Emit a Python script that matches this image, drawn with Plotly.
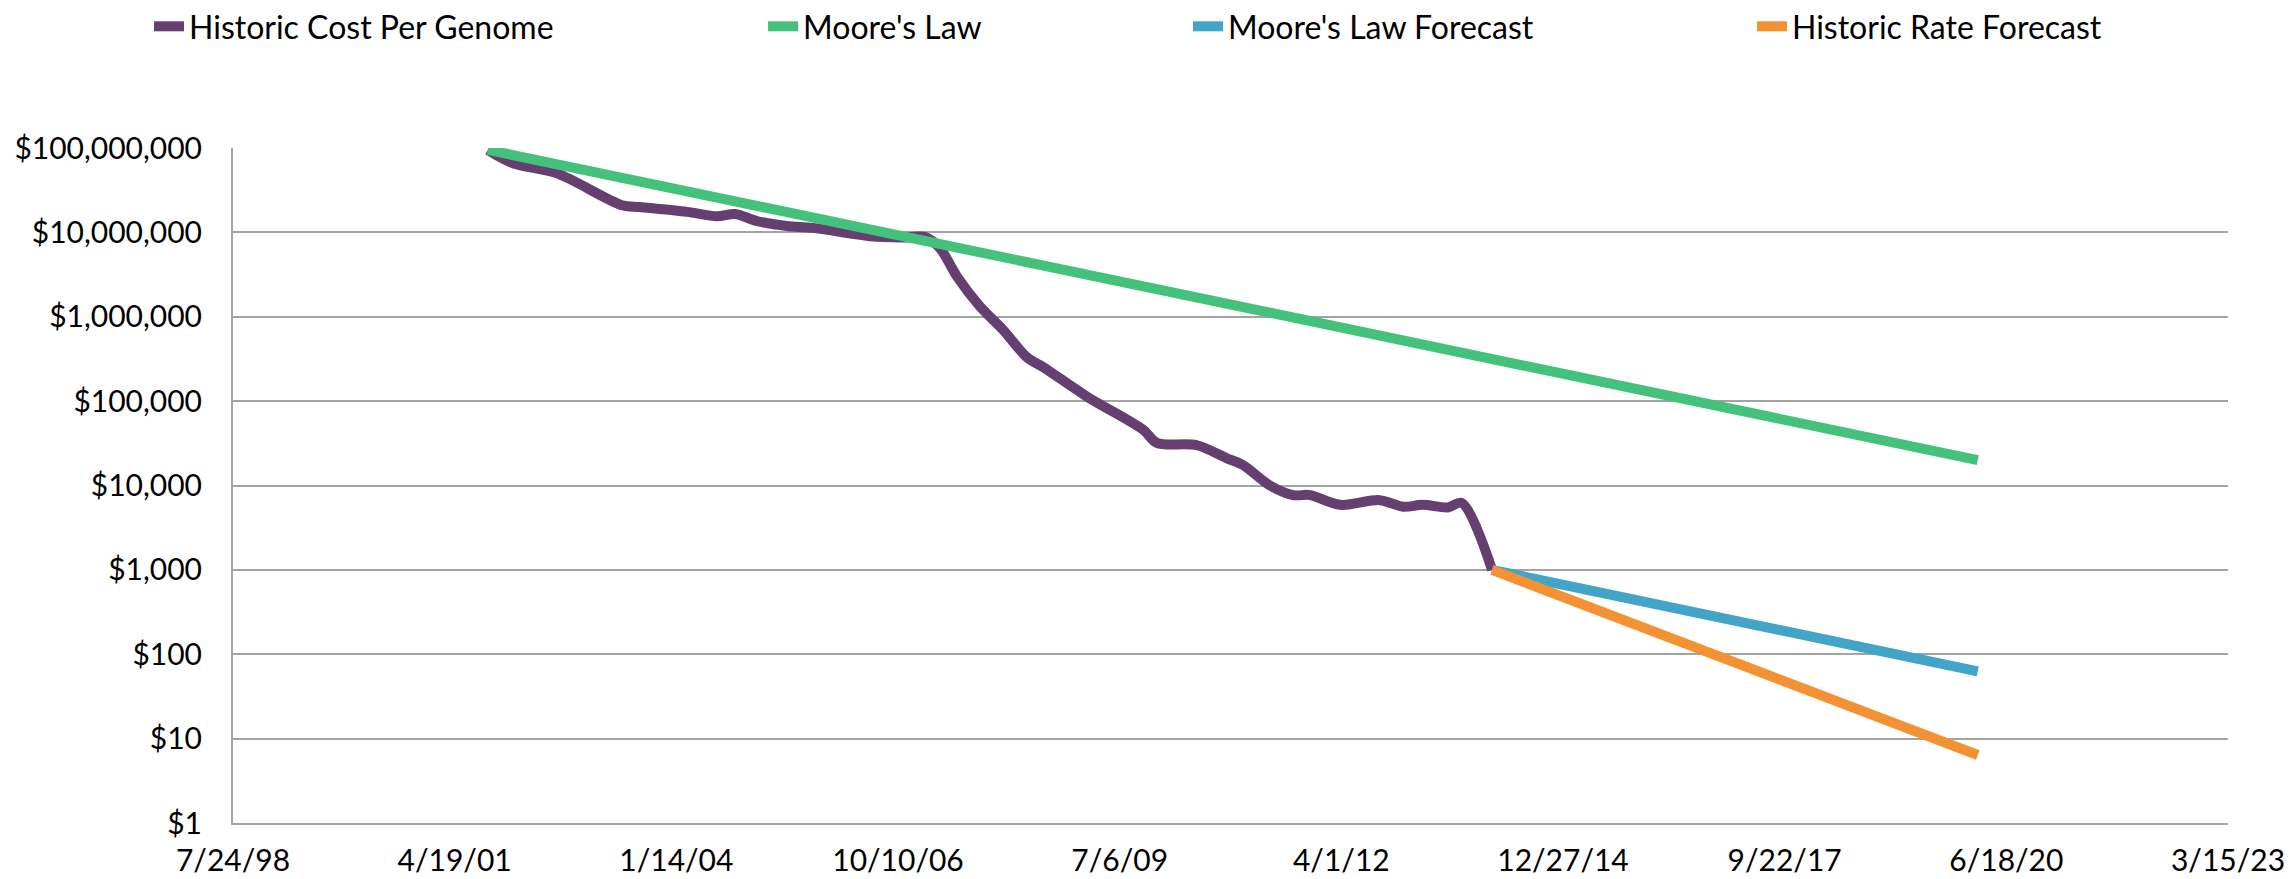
import plotly.graph_objects as go

# ---------------- data ----------------
cost_dates = [
    "2001-09-16", "2002-01-07", "2002-07-25", "2003-05-14", "2003-08-03",
    "2004-03-02", "2004-07-15", "2004-10-05", "2005-01-12", "2005-05-27",
    "2005-09-21", "2006-06-06", "2006-11-01", "2007-02-09", "2007-04-17",
    "2007-07-03", "2007-10-15", "2008-01-27", "2008-05-14", "2008-07-25",
    "2009-02-09", "2009-10-19", "2009-12-21", "2010-06-20", "2010-11-02",
    "2011-01-13", "2011-05-15", "2011-08-27", "2011-11-12", "2012-03-26",
    "2012-09-22", "2013-01-04", "2013-04-04", "2013-07-26", "2013-09-27",
    "2014-02-10",
]
cost_values = [
    95000000, 66000000, 50000000, 21000000, 20000000,
    17500000, 15500000, 16500000, 13600000, 11900000,
    11300000, 9000000, 8700000, 8800000, 6500000,
    3000000, 1320000, 700000, 330000, 254000,
    113000, 46000, 32000, 30000, 21000,
    17500, 10000, 7700, 7700, 5900,
    6700, 5600, 5900, 5500, 6200,
    1000,
]

moore_dates = ["2001-09-16", "2020-02-10"]
moore_values = [95000000, 20000]

moore_fc_dates = ["2014-02-10", "2020-02-10"]
moore_fc_values = [1000, 62.5]

hist_fc_dates = ["2014-02-10", "2020-02-10"]
hist_fc_values = [1000, 6.4]

x_tick_dates = ["1998-07-24", "2001-04-19", "2004-01-14", "2006-10-10", "2009-07-06",
                "2012-04-01", "2014-12-27", "2017-09-22", "2020-06-18", "2023-03-15"]
x_tick_labels = ["7/24/98", "4/19/01", "1/14/04", "10/10/06", "7/6/09",
                 "4/1/12", "12/27/14", "9/22/17", "6/18/20", "3/15/23"]

y_tick_values = [1, 10, 100, 1000, 10000, 100000, 1000000, 10000000, 100000000]
y_tick_labels = ["$1", "$10", "$100", "$1,000", "$10,000", "$100,000",
                 "$1,000,000", "$10,000,000", "$100,000,000"]

series_names = ["Historic Cost Per Genome", "Moore's Law",
                "Moore's Law Forecast", "Historic Rate Forecast"]
series_colors = ["#653F6F", "#44C27C", "#42A4C7", "#F29232"]

# ---------------- figure ----------------
FONT = "Lato, 'Noto Sans', sans-serif"
GRID = "#a3a3a3"

fig = go.Figure()
data = [
    (cost_dates, cost_values, "spline"),
    (moore_dates, moore_values, "linear"),
    (moore_fc_dates, moore_fc_values, "linear"),
    (hist_fc_dates, hist_fc_values, "linear"),
]
legend_ids = ["legend", "legend2", "legend3", "legend4"]
for i, (xs, ys, shape) in enumerate(data):
    fig.add_trace(go.Scatter(
        x=xs, y=ys, mode="lines", name=series_names[i],
        line=dict(color=series_colors[i], width=10, shape=shape, smoothing=0.9),
        legend=legend_ids[i],
    ))

legend_x = [-0.0421, 0.2657, 0.4787, 0.7614]
common_legend = dict(orientation="h", xanchor="left", yanchor="middle", y=1.18,
                     font=dict(family=FONT, size=32, color="#000000"),
                     bgcolor="rgba(0,0,0,0)", itemwidth=30)

fig.update_layout(
    width=2295, height=879,
    margin=dict(l=233, r=67, t=148, b=56, autoexpand=False),
    paper_bgcolor="white", plot_bgcolor="white",
    font=dict(family=FONT, size=30, color="#000000"),
    showlegend=True,
    legend=dict(common_legend, x=legend_x[0]),
    legend2=dict(common_legend, x=legend_x[1]),
    legend3=dict(common_legend, x=legend_x[2]),
    legend4=dict(common_legend, x=legend_x[3]),
    xaxis=dict(
        type="date", range=["1998-07-24", "2023-03-15"],
        tickmode="array", tickvals=x_tick_dates, ticktext=x_tick_labels,
        showgrid=False, zeroline=False,
        showline=True, linecolor=GRID, linewidth=2,
        ticks="", ticklabelstandoff=10,
        tickfont=dict(family=FONT, size=30, color="#000000"),
    ),
    yaxis=dict(
        type="log", range=[0, 8],
        tickmode="array", tickvals=y_tick_values, ticktext=y_tick_labels,
        showgrid=True, gridcolor=GRID, gridwidth=2,
        zeroline=False,
        showline=True, linecolor=GRID, linewidth=2,
        ticks="", ticklabelstandoff=23,
        tickfont=dict(family=FONT, size=30, color="#000000"),
    ),
)

fig.write_html(
    "out.html",
    config={"displayModeBar": False},
    post_script="document.body.style.margin='0px';document.body.style.overflow='hidden';",
)
